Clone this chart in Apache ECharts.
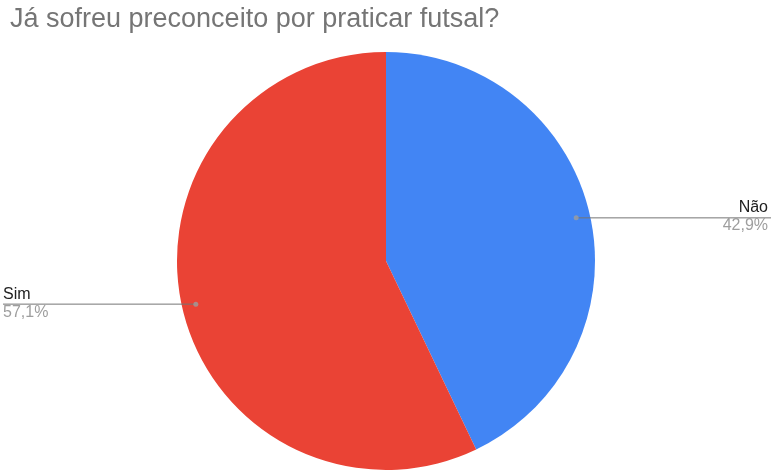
<!DOCTYPE html>
<html>
<head>
<meta charset="utf-8">
<script src="https://cdn.jsdelivr.net/npm/echarts@6/dist/echarts.min.js"></script>
<style>
html,body{margin:0;padding:0;background:#fff;}
#c{width:771px;height:473px;}
</style>
</head>
<body>
<div id="c"></div>
<script>
var titleText = 'Já sofreu preconceito por praticar futsal?';
var categories = ['Não', 'Sim'];
var values = [42.9, 57.1];
var percentLabels = ['42,9%', '57,1%'];
var colors = ['#4285F4', '#EA4335'];

var CX = 386, CY = 261, R = 209, RDOT = 195;
var chart = echarts.init(document.getElementById('c'));

var total = values.reduce(function(a, b){ return a + b; }, 0);
var acc = 0;
var dotData = values.map(function(v){
  var mid = (acc + v / 2) / total * 360;
  acc += v;
  return [RDOT / R, mid];
});

var pieData = categories.map(function(c, i){
  return { name: c, value: values[i], itemStyle: { color: colors[i] } };
});
var labelData = categories.map(function(c, i){
  return { name: c, value: values[i] };
});

chart.setOption({
  animation: false,
  title: {
    text: titleText,
    left: 5,
    top: 1,
    textStyle: { fontFamily: 'Liberation Sans, Arial, sans-serif', fontSize: 27, fontWeight: 'normal', color: '#757575' }
  },
  polar: { center: [CX, CY], radius: R },
  angleAxis: { type: 'value', min: 0, max: 360, startAngle: 90, clockwise: true, show: false },
  radiusAxis: { type: 'value', min: 0, max: 1, show: false },
  series: [
    {
      type: 'pie',
      center: [CX, CY],
      radius: [0, R],
      startAngle: 90,
      clockwise: true,
      silent: true,
      label: { show: false },
      labelLine: { show: false },
      itemStyle: { borderWidth: 0 },
      data: pieData,
      z: 1
    },
    {
      type: 'pie',
      center: [CX, CY],
      radius: [0, RDOT],
      startAngle: 90,
      clockwise: true,
      silent: true,
      itemStyle: { color: 'rgba(0,0,0,0)' },
      label: {
        show: true,
        position: 'outside',
        formatter: function(p){ return '{n|' + p.name + '}\n{p|' + percentLabels[p.dataIndex] + '}'; },
        rich: {
          n: { fontFamily: 'Liberation Sans, Arial, sans-serif', fontSize: 16, color: '#212121', lineHeight: 18 },
          p: { fontFamily: 'Liberation Sans, Arial, sans-serif', fontSize: 16, color: '#9e9e9e', lineHeight: 18 }
        }
      },
      labelLine: { show: true, length: 0, length2: 10, lineStyle: { color: '#757575', width: 1 } },
      labelLayout: function(params){
        var w = chart.getWidth();
        var p0 = params.labelLinePoints ? params.labelLinePoints[0] : [CX, CY];
        var isRight = p0[0] > CX;
        return {
          x: isRight ? w - 3 : 3,
          y: p0[1] - 1,
          align: isRight ? 'right' : 'left',
          verticalAlign: 'middle',
          labelLinePoints: [p0.slice(), p0.slice(), [isRight ? w : 3, p0[1]]]
        };
      },
      data: labelData,
      z: 2
    },
    {
      type: 'scatter',
      coordinateSystem: 'polar',
      symbol: 'circle',
      symbolSize: 5,
      silent: true,
      itemStyle: { color: '#9e9e9e' },
      data: dotData,
      z: 3
    }
  ]
});
</script>
</body>
</html>
